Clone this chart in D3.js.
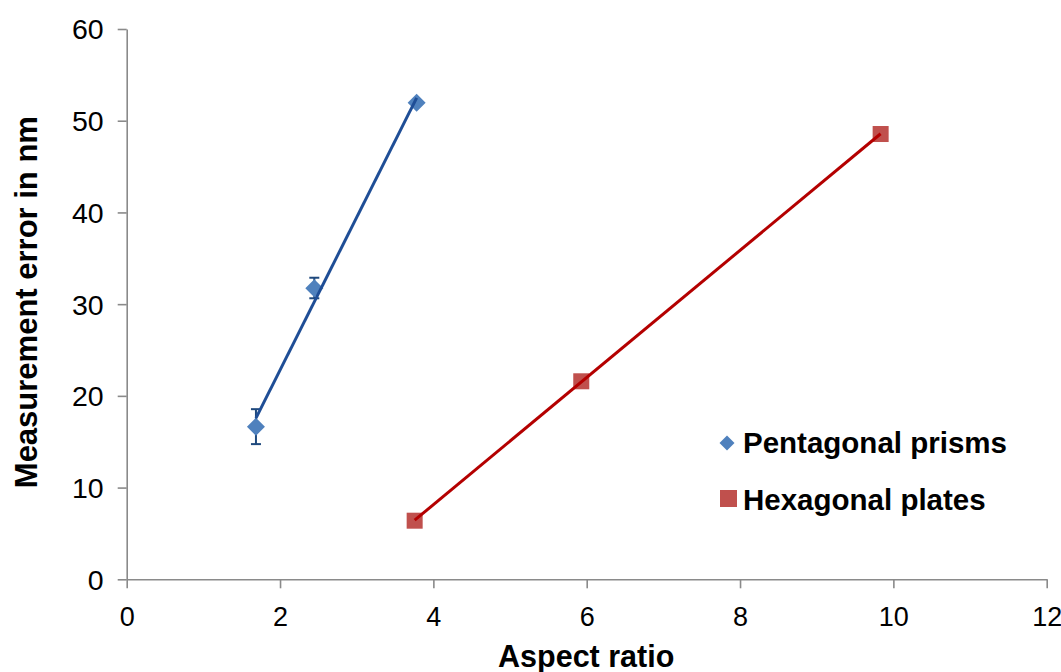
<!DOCTYPE html>
<html>
<head>
<meta charset="utf-8">
<script src="https://cdn.jsdelivr.net/npm/d3@7"></script>
<style>
  html, body { margin: 0; padding: 0; background: #fff; }
  svg { display: block; font-family: "Liberation Sans", Arial, sans-serif; }
</style>
</head>
<body>
<svg id="chart" width="1061" height="672"></svg>
<script>
// Series data: aspect ratio vs. measurement error (nm)
const pentagonalX = [1.686, 2.447, 3.782];
const pentagonalY = [16.64, 31.73, 51.96];
const pentagonalErrLow = [14.74, 30.64, 51.96];
const pentagonalErrHigh = [18.55, 32.88, 51.96];

const hexagonalX = [3.756, 5.929, 9.834];
const hexagonalY = [6.39, 21.59, 48.55];

const xTicks = [0, 2, 4, 6, 8, 10, 12];
const yTicks = [0, 10, 20, 30, 40, 50, 60];
const seriesNames = ["Pentagonal prisms", "Hexagonal plates"];

const svg = d3.select("#chart");
const plotLeft = 126.7, plotRight = 1046.7, plotTop = 29, plotBottom = 579.3;

const x = d3.scaleLinear().domain([0, 12]).range([plotLeft, plotRight]);
const y = d3.scaleLinear().domain([0, 60]).range([plotBottom, plotTop]);

const axisColor = "#8a8a8a";

// Axes
const xAxis = svg.append("g")
  .attr("transform", `translate(0,${plotBottom})`)
  .call(d3.axisBottom(x).tickValues(xTicks).tickSize(9).tickSizeOuter(0).tickPadding(13));
const yAxis = svg.append("g")
  .attr("transform", `translate(${plotLeft},0)`)
  .call(d3.axisLeft(y).tickValues(yTicks).tickSize(9).tickSizeOuter(0).tickPadding(14));

[xAxis, yAxis].forEach(g => {
  g.select(".domain").attr("stroke", axisColor).attr("stroke-width", 1.6);
  g.selectAll(".tick line").attr("stroke", axisColor).attr("stroke-width", 1.6);
  g.selectAll(".tick text")
    .attr("fill", "#000")
    .style("font-family", "'Liberation Sans', Arial, sans-serif");
});
xAxis.selectAll(".tick text").style("font-size", "27px").attr("dy", "0.9em");
yAxis.selectAll(".tick text").style("font-size", "28.5px").attr("dy", "0.35em");

// Axis titles
svg.append("text")
  .attr("x", (plotLeft + plotRight) / 2 - 0.5)
  .attr("y", 667)
  .attr("text-anchor", "middle")
  .style("font-size", "30.5px").style("font-weight", "bold")
  .text("Aspect ratio");

svg.append("text")
  .attr("transform", `translate(37,${(plotTop + plotBottom) / 2 - 2}) rotate(-90)`)
  .attr("text-anchor", "middle")
  .style("font-size", "31px").style("font-weight", "bold")
  .text("Measurement error in nm");

// Least-squares trendline spanning the series' x extent
function fitLine(xs, ys) {
  const mx = d3.mean(xs), my = d3.mean(ys);
  let sxy = 0, sxx = 0;
  xs.forEach((v, i) => { sxy += (v - mx) * (ys[i] - my); sxx += (v - mx) * (v - mx); });
  const b = sxy / sxx, a = my - b * mx;
  const [x0, x1] = d3.extent(xs);
  return [[x0, a + b * x0], [x1, a + b * x1]];
}
const line = d3.line().x(d => x(d[0])).y(d => y(d[1]));

const blueMarker = "#4f81bd", blueLine = "#1f4e96", blueErr = "#1f497d";
const redMarker = "#c0504d", redLine = "#b40000";

// Error bars (pentagonal prisms)
const errG = svg.append("g").attr("stroke", blueErr).attr("stroke-width", 2);
pentagonalX.forEach((xv, i) => {
  if (pentagonalErrHigh[i] - pentagonalErrLow[i] < 0.01) return;
  const cx = x(xv);
  errG.append("line").attr("x1", cx).attr("x2", cx)
    .attr("y1", y(pentagonalErrLow[i])).attr("y2", y(pentagonalErrHigh[i]));
  [pentagonalErrLow[i], pentagonalErrHigh[i]].forEach(v => {
    errG.append("line").attr("x1", cx - 5).attr("x2", cx + 5)
      .attr("y1", y(v)).attr("y2", y(v));
  });
});

// Markers
const diamond = s => `M0,${-s}L${s},0L0,${s}L${-s},0Z`;
svg.append("g").selectAll("path")
  .data(pentagonalX.map((v, i) => [v, pentagonalY[i]]))
  .join("path")
  .attr("transform", d => `translate(${x(d[0])},${y(d[1])})`)
  .attr("d", diamond(9))
  .attr("fill", blueMarker);

svg.append("g").selectAll("rect")
  .data(hexagonalX.map((v, i) => [v, hexagonalY[i]]))
  .join("rect")
  .attr("x", d => x(d[0]) - 8).attr("y", d => y(d[1]) - 8)
  .attr("width", 16).attr("height", 16)
  .attr("fill", redMarker);

// Trendlines drawn over the markers
svg.append("path").attr("d", line(fitLine(pentagonalX, pentagonalY)))
  .attr("stroke", blueLine).attr("stroke-width", 3).attr("fill", "none");
svg.append("path").attr("d", line(fitLine(hexagonalX, hexagonalY)))
  .attr("stroke", redLine).attr("stroke-width", 3).attr("fill", "none");

// Legend
const legend = svg.append("g");
legend.append("path").attr("transform", "translate(727,443)").attr("d", diamond(7.5)).attr("fill", blueMarker);
legend.append("rect").attr("x", 720).attr("y", 490).attr("width", 17).attr("height", 17).attr("fill", redMarker);
legend.selectAll("text").data(seriesNames).join("text")
  .attr("x", 743)
  .attr("y", (d, i) => 453 + i * 57)
  .style("font-size", "29.5px").style("font-weight", "bold")
  .text(d => d);
</script>
</body>
</html>
